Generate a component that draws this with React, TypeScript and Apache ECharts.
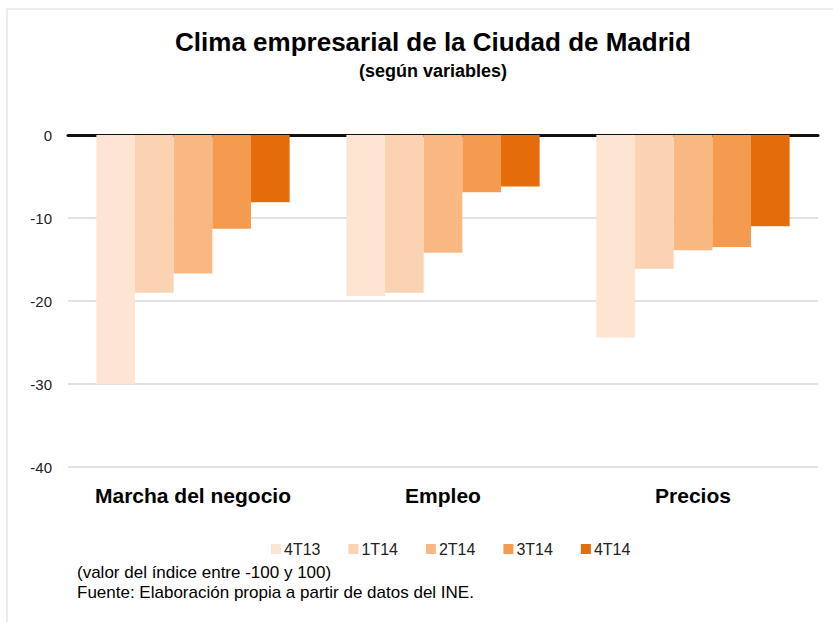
import React, { useEffect, useRef } from "react";
import * as echarts from "echarts";

const categories = ["Marcha del negocio", "Empleo", "Precios"];
const seriesNames = ["4T13", "1T14", "2T14", "3T14", "4T14"];
const s4T13 = [-30.0, -19.4, -24.4];
const s1T14 = [-19.0, -19.0, -16.1];
const s2T14 = [-16.7, -14.2, -13.9];
const s3T14 = [-11.3, -6.9, -13.5];
const s4T14 = [-8.1, -6.2, -11.0];
const seriesValues = [s4T13, s1T14, s2T14, s3T14, s4T14];
const colors = ["#FDE5D2", "#FCD3B2", "#F9B881", "#F59B4F", "#E46C0A"];

const titleText = "Clima empresarial de la Ciudad de Madrid";
const subtitleText = "(según variables)";
const note1 = "(valor del índice entre -100 y 100)";
const note2 = "Fuente: Elaboración propia a partir de datos del INE.";

const FONT = "'Liberation Sans', Arial, Helvetica, sans-serif";

export default function App() {
  const ref = useRef<HTMLDivElement>(null);
  useEffect(() => {
    if (!ref.current) return;
    const chart = echarts.init(ref.current, null, { renderer: "svg" });
    chart.setOption({
      animation: false,
      backgroundColor: "#ffffff",
      textStyle: { fontFamily: FONT },
      title: [
        {
          text: titleText,
          left: 428,
          top: 24,
          textAlign: "center",
          textStyle: { fontSize: 26, fontWeight: "bold", color: "#000", fontFamily: FONT },
        },
        {
          text: subtitleText,
          left: 428,
          top: 57,
          textAlign: "center",
          textStyle: { fontSize: 18, fontWeight: "bold", color: "#000", fontFamily: FONT },
        },
      ],
      legend: {
        data: seriesNames,
        left: 266,
        top: 536,
        itemWidth: 10,
        itemHeight: 10,
        itemGap: 28,
        icon: "rect",
        textStyle: { fontSize: 16, color: "#222", fontFamily: FONT, padding: [0, 0, 0, -2] },
      },
      grid: { left: 68, right: 15, top: 135, height: 332, containLabel: false },
      xAxis: [
        {
          type: "category",
          data: categories,
          position: "bottom",
          axisLine: { show: false, onZero: false },
          axisTick: { show: false },
          axisLabel: {
            interval: 0,
            hideOverlap: false,
            margin: 18,
            fontSize: 21,
            fontWeight: "bold",
            color: "#000",
            fontFamily: FONT,
          },
        },
        {
          type: "category",
          data: categories,
          position: "top",
          axisLine: { show: true, onZero: false, lineStyle: { color: "#111", width: 3 } },
          axisTick: { show: false },
          axisLabel: { show: false },
        },
      ],
      yAxis: {
        type: "value",
        min: -40,
        max: 0,
        interval: 10,
        axisLine: { show: false },
        axisTick: { show: false },
        axisLabel: { margin: 16, fontSize: 15, color: "#222", fontFamily: FONT },
        splitLine: { lineStyle: { color: "#D9D9D9", width: 1.5 } },
      },
      series: seriesNames.map((name, i) => ({
        name,
        type: "bar",
        data: seriesValues[i],
        barGap: "0%",
        barCategoryGap: "22.7%",
        itemStyle: { color: colors[i] },
      })),
      graphic: [
        {
          type: "line",
          shape: { x1: 7, y1: 9, x2: 833, y2: 9 },
          style: { stroke: "#D9D9D9", lineWidth: 1 },
        },
        {
          type: "line",
          shape: { x1: 7, y1: 9, x2: 7, y2: 622 },
          style: { stroke: "#D9D9D9", lineWidth: 1 },
        },
        {
          type: "text",
          left: 77,
          top: 564,
          style: { text: note1, fontSize: 17, fill: "#000", fontFamily: FONT },
        },
        {
          type: "text",
          left: 77,
          top: 584,
          style: { text: note2, fontSize: 17, fill: "#000", fontFamily: FONT },
        },
      ],
    });
    return () => chart.dispose();
  }, []);
  return <div ref={ref} style={{ width: 833, height: 622, position: "absolute", left: 0, top: 0 }} />;
}
